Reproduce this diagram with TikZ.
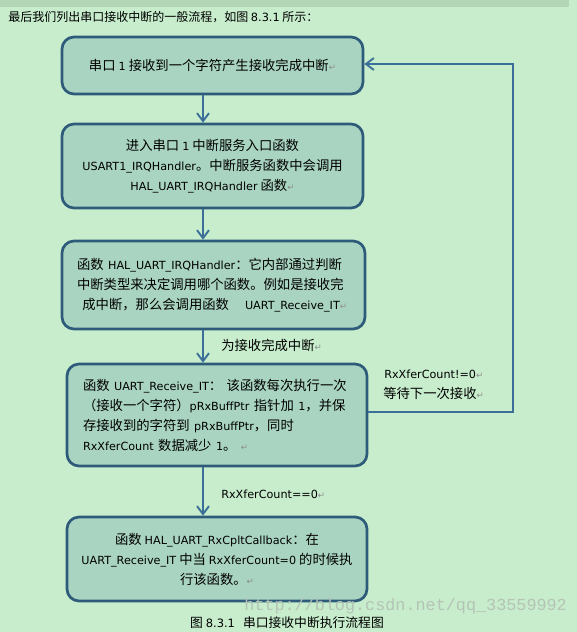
\documentclass[tikz,border=0pt]{standalone}
\usepackage{fontspec}
\setmainfont{Noto Sans CJK SC}
\newfontfamily\latf{DejaVu Sans}
\newfontfamily\monof{Liberation Mono}
\usetikzlibrary{arrows.meta}
\definecolor{bg}{HTML}{C7EDCC}
\definecolor{strip}{HTML}{B3D6B7}
\definecolor{boxfill}{HTML}{A9D4C1}
\definecolor{boxline}{HTML}{2F5B7A}
\definecolor{arrcol}{HTML}{3B6F98}
\definecolor{markgray}{HTML}{8C8C8C}
\definecolor{wmgray}{HTML}{B4C4B6}
\newcommand\en[1]{{\latf\fontsize{8.4}{15}\selectfont #1}}
\newcommand\retmark{{\latf\fontsize{6.5}{15}\selectfont\color{markgray}↵}}
\tikzset{
  flowbox/.style={draw=boxline, line width=2pt, fill=boxfill, rounded corners=9pt,
    inner sep=0pt, font=\fontsize{10}{15}\selectfont, text=black},
  arr/.style={draw=arrcol, line width=1.6pt,
    -{Straight Barb[length=6pt,width=9pt,line width=1.4pt]}},
  lbl/.style={anchor=west, inner sep=0pt, font=\fontsize{10}{15}\selectfont, text=black}
}
\begin{document}
\begin{tikzpicture}[x=0.75pt,y=-0.75pt]
\fill[bg] (0,0) rectangle (577,632);
\useasboundingbox (0,0) rectangle (577,632);
\fill[strip] (0,0) rectangle (569,7);

\node[anchor=west, inner sep=0pt, font=\fontsize{9}{12}\selectfont] (head) at (8,17)
  {最后我们列出串口接收中断的一般流程，如图 {\latf\fontsize{8.5}{12}\selectfont 8.3.1} 所示：};

\node[flowbox, minimum width=301*0.75pt, minimum height=57*0.75pt] (b1) at (212.5,65.5)
  {串口 \en{1} 接收到一个字符产生接收完成中断\retmark};

\node[flowbox, minimum width=301*0.75pt, minimum height=84*0.75pt, align=center] (b2) at (212.5,166)
  {进入串口 \en{1} 中断服务入口函数\\
   \en{USART1\_IRQHandler}。中断服务函数中会调用\\
   \en{HAL\_UART\_IRQHandler} 函数\retmark};

\node[flowbox, minimum width=303*0.75pt, minimum height=88*0.75pt,
      text width=273*0.75pt, align=left] (b3) at (213.5,285)
  {函数 \en{HAL\_UART\_IRQHandler}：它内部通过判断\\
   中断类型来决定调用哪个函数。例如是接收完\\
   \hspace*{4pt}成中断，那么会调用函数\hspace{12pt}\en{UART\_Receive\_IT}\retmark};

\node[flowbox, minimum width=300*0.75pt, minimum height=102*0.75pt,
      text width=268*0.75pt, align=left] (b4) at (217,415)
  {函数 \en{UART\_Receive\_IT}： 该函数每次执行一次\\
   （接收一个字符）\en{pRxBuffPtr} 指针加 \en{1}，并保\\
   存接收到的字符到 \en{pRxBuffPtr}，同时\\
   \en{RxXferCount} 数据减少 \en{1}。 \retmark};

\node[flowbox, minimum width=300*0.75pt, minimum height=84*0.75pt, align=center] (b5) at (217,559)
  {函数 \en{HAL\_UART\_RxCpltCallback}：在\\
   \en{UART\_Receive\_IT} 中当 \en{RxXferCount=0} 的时候执\\
   行该函数。\retmark};

\coordinate (ax) at (203,0);
\draw[arr] (b1.south -| ax) -- (b2.north -| ax);
\draw[arr] (b2.south -| ax) -- (b3.north -| ax);
\draw[arr] (b3.south -| ax) -- (b4.north -| ax);
\draw[arr] (b4.south -| ax) -- (b5.north -| ax);

\coordinate (fb1) at (513,412);
\coordinate (fb2) at (513,64);
\draw[arr] (b4.east |- fb1) -- (fb1) -- (fb2) -- (b1.east |- fb2);

\node[lbl] (l1) at (221,345) {为接收完成中断\retmark};
\node[lbl] (l2) at (384,374) {\en{RxXferCount!=0}\retmark};
\node[lbl] (l3) at (383,393) {等待下一次接收\retmark};
\node[lbl] (l4) at (221,494) {\en{RxXferCount==0}\retmark};

\node[anchor=west, inner sep=0pt, font=\monof\fontsize{12.6}{14}\selectfont, text=wmgray] (wm) at (244,606)
  {http://blog.csdn.net/qq\_33559992};

\node[inner sep=0pt, font=\fontsize{9.6}{12}\selectfont] (cap) at (287,623)
  {图 {\latf\fontsize{8.6}{12}\selectfont 8.3.1}\hspace{6pt}串口接收中断执行流程图};
\end{tikzpicture}
\end{document}
